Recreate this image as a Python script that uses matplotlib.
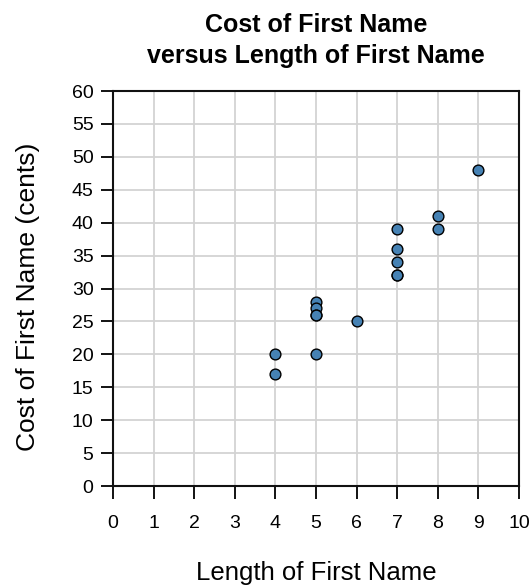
import matplotlib.pyplot as plt

# Données : longueur du prénom et coût (cents)
name_length = [4, 4, 5, 5, 5, 5, 5, 6, 7, 7, 7, 7, 7, 8, 8, 9]
name_cost = [20, 17, 28, 27, 26, 26, 20, 25, 39, 36, 34, 32, 32, 41, 39, 48]

x_ticks = list(range(0, 11))
y_ticks = list(range(0, 61, 5))

plt.rcParams['font.family'] = ['Liberation Sans', 'DejaVu Sans']

fig = plt.figure(figsize=(5.32, 5.86), dpi=100)
ax = fig.add_axes([0.2124, 0.1706, 0.7632, 0.6741])

ax.scatter(name_length, name_cost, s=60, color='#4682b4', edgecolor='black',
           linewidth=1.0, zorder=3)

ax.set_xlim(0, 10)
ax.set_ylim(0, 60)
ax.set_xticks(x_ticks)
ax.set_yticks(y_ticks)
ax.grid(True, color='#d3d3d3', linewidth=1.3)
ax.set_axisbelow(True)

for sp in ax.spines.values():
    sp.set_linewidth(1.5)
    sp.set_color('#111111')

ax.tick_params(axis='both', direction='out', length=9, width=1.3, labelsize=14)
ax.tick_params(axis='x', pad=12)
ax.tick_params(axis='y', pad=5)

ax.set_xlabel('Length of First Name', fontsize=18.5, labelpad=21)
ax.set_ylabel('Cost of First Name (cents)', fontsize=19)
ax.yaxis.set_label_coords(-0.18, 0.48)
ax.set_title('Cost of First Name\nversus Length of First Name', fontsize=18,
             fontweight='bold', pad=20, linespacing=1.38)

fig.savefig('out.png', dpi=100)
